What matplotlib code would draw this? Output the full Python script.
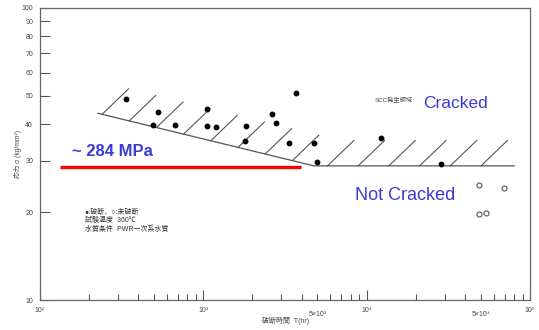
import matplotlib.pyplot as plt
import numpy as np
from matplotlib.ticker import FixedLocator, FixedFormatter, FuncFormatter

plt.rcParams['font.family'] = ['Liberation Sans', 'Noto Sans CJK JP', 'DejaVu Sans']

# ruptured specimens (hr, kg/mm2)
fail_t = [334, 526, 493, 673, 1058, 1047, 1196, 1828, 1812, 2618, 2794, 3675, 3358, 4745, 4990, 12300, 28700]
fail_s = [48.8, 44.1, 39.7, 39.7, 45.0, 39.5, 39.0, 39.5, 35.0, 43.2, 40.5, 51.3, 34.6, 34.6, 29.8, 35.9, 29.2]
# unruptured specimens
run_t = [49000, 69800, 49000, 53800]
run_s = [24.8, 24.2, 19.7, 19.9]

# SCC threshold boundary
bound_t = [226, 4750, 80000]
bound_s = [43.6, 28.8, 28.8]

# ~284 MPa line
red_t = [133, 3940]
red_s = [28.6, 28.6]

fig = plt.figure(figsize=(5.39, 3.30), dpi=100)
ax = fig.add_axes([0.0742, 0.0909, 0.9091, 0.8849])

ax.set_xscale('log')
ax.set_yscale('log')
ax.set_xlim(1e2, 1e5)
ax.set_ylim(10, 100)

# boundary + hatching
ax.plot(bound_t, bound_s, color='#555555', lw=0.9)
hx = np.concatenate([np.linspace(2.38, 3.545, 8), np.linspace(3.76, 4.70, 6)])
hy = np.interp(hx, np.log10(bound_t), np.log10(bound_s))
for lx, ly in zip(hx, hy):
    ax.plot([10**lx, 10**(lx + 0.162)], [10**ly, 10**(ly + 0.087)], color='#555555', lw=0.8)

ax.plot(fail_t, fail_s, 'o', color='black', ms=3.2)
ax.plot(run_t, run_s, 'o', mfc='white', mec='#555555', mew=0.8, ms=3.6)

ax.plot(red_t, red_s, color='#ff0000', lw=2.4, solid_capstyle='butt')

ax.text(0.065, 0.507, '~ 284 MPa', transform=ax.transAxes, fontsize=12, fontweight='bold',
        color='#3a3ad6', va='center')
fig.text(0.785, 0.685, 'Cracked', fontsize=12.5, color='#3a3ad6', va='center')
fig.text(0.658, 0.409, 'Not Cracked', fontsize=13, color='#3a3ad6', va='center')
fig.text(0.695, 0.697, 'SCC発生領域', fontsize=4.5, color='#444444', va='center')

fig.text(0.157, 0.357, '●:破断、○:未破断', fontsize=5, color='#333333', va='center')
fig.text(0.157, 0.331, '試験温度  360℃', fontsize=5, color='#333333', va='center')
fig.text(0.157, 0.306, '水質条件  PWR一次系水質', fontsize=5, color='#333333', va='center')

# axes styling
for s in ax.spines.values():
    s.set_color('#666666')
    s.set_linewidth(0.9)

yt = [10, 20, 30, 40, 50, 60, 70, 80, 90, 100]
ax.yaxis.set_major_locator(FixedLocator(yt))
ax.yaxis.set_major_formatter(FixedFormatter([str(v) for v in yt]))
ax.yaxis.set_minor_locator(FixedLocator([]))
ax.tick_params(axis='y', which='major', direction='in', length=7.5, width=0.8, color='#555555',
               labelsize=5, labelcolor='#444444', pad=5)

xt = [1e2, 1e3, 1e4, 1e5]
ax.xaxis.set_major_locator(FixedLocator(xt))
ax.xaxis.set_major_formatter(FixedFormatter(['10²', '10³', '10⁴', '10⁵']))
xm = [m * 10**e for e in (2, 3, 4) for m in range(2, 10)]
ax.xaxis.set_minor_locator(FixedLocator(xm))
ax.xaxis.set_minor_formatter(FuncFormatter(
    lambda v, p: '5×10³' if abs(v - 5e3) < 1 else ('5×10⁴' if abs(v - 5e4) < 1 else '')))
ax.tick_params(axis='x', which='major', direction='in', length=7.5, width=0.8, color='#555555',
               labelsize=5, labelcolor='#444444', pad=5)
ax.tick_params(axis='x', which='minor', direction='in', length=4.5, width=0.8, color='#555555',
               labelsize=5, labelcolor='#444444', pad=8)

fig.text(0.034, 0.533, '応力 σ (kg/mm²)', rotation=90, fontsize=4.8, color='#444444', va='center', ha='center')
fig.text(0.53, 0.027, '破断時間  T(hr)', fontsize=5, color='#444444', va='center', ha='center')

plt.savefig('out.png', dpi=100)
